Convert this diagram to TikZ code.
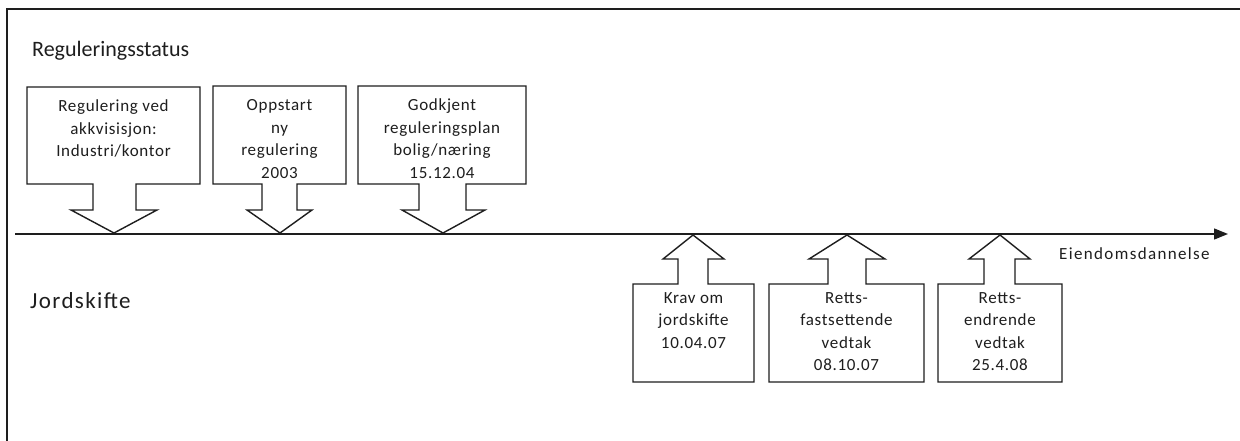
\documentclass[tikz,border=0pt]{standalone}
\usepackage{fontspec}
\setmainfont{Carlito}
\usetikzlibrary{arrows.meta}
\definecolor{ink}{HTML}{1E1E1E}
\begin{document}
\begin{tikzpicture}[x=1pt,y=-1pt,
  outline/.style={draw=ink,line width=1.4pt,line join=miter},
  frameline/.style={draw=ink,line width=2pt},
  boxtext/.style={anchor=base,align=center,inner sep=0pt,text=ink,
    font=\fontsize{17}{22.5}\selectfont\addfontfeatures{LetterSpace=4}},
  heading/.style={anchor=base west,inner sep=0pt,text=ink,
    font=\fontsize{22}{26}\selectfont},
  axislabel/.style={anchor=west,inner sep=0pt,text=ink,
    font=\fontsize{17}{20}\selectfont\addfontfeatures{LetterSpace=8}}]
\useasboundingbox (0,0) rectangle (1240,441);
\fill[white] (0,0) rectangle (1240,441);

% open frame: left and top edges only
\draw[frameline] (7,441) -- (7,9) -- (1240,9);

% section headings
\node[heading] (hreg) at (32,57) {Reguleringsstatus};
\node[heading,font=\fontsize{23}{26}\selectfont\addfontfeatures{LetterSpace=6}]
  (hjord) at (30,308) {Jordskifte};

% time axis
\coordinate (t0) at (15,234);
\coordinate (t1) at (1228,234);
\draw[draw=ink,line width=1.4pt,-{Triangle[length=14pt,width=11pt]}] (t0) -- (t1);
\node[axislabel] (eiend) at (1059,254) {Eiendomsdannelse};

% callouts above the axis, pointing down (text anchored on its last baseline)
\coordinate (p1) at (114,233);
\draw[outline] (27,87) -- (200,87) -- (200,184) -- (136,184) -- (136,210) -- (157,210)
  -- (p1) -- (71,210) -- (93,210) -- (93,184) -- (27,184) -- cycle;
\node[boxtext] (r1) at (113.5,157) {Regulering ved\\akkvisisjon:\\Industri/kontor};

\coordinate (p2) at (280,233);
\draw[outline] (213,86) -- (346,86) -- (346,184) -- (297,184) -- (297,210) -- (312,210)
  -- (p2) -- (247,210) -- (262,210) -- (262,184) -- (213,184) -- cycle;
\node[boxtext] (r2) at (279.5,178.5) {Oppstart\\ny\\regulering\\2003};

\coordinate (p3) at (443,233);
\draw[outline] (358,86) -- (526,86) -- (526,184) -- (466,184) -- (466,210) -- (485,210)
  -- (p3) -- (402,210) -- (419,210) -- (419,184) -- (358,184) -- cycle;
\node[boxtext] (r3) at (442,178.5) {Godkjent\\reguleringsplan\\bolig/næring\\15.12.04};

% callouts below the axis, pointing up
\coordinate (q1) at (693,235);
\draw[outline] (633,382) -- (754,382) -- (754,284) -- (708,284) -- (708,259) -- (724,259)
  -- (q1) -- (663,259) -- (678,259) -- (678,284) -- (633,284) -- cycle;
\node[boxtext] (j1) at (693.5,348) {Krav om\\jordskifte\\10.04.07};

\coordinate (q2) at (847,235);
\draw[outline] (769,382) -- (924,382) -- (924,284) -- (866,284) -- (866,259) -- (885,259)
  -- (q2) -- (809,259) -- (828,259) -- (828,284) -- (769,284) -- cycle;
\node[boxtext] (j2) at (846.5,370.5) {Retts-\\fastsettende\\vedtak\\08.10.07};

\coordinate (q3) at (1000,235);
\draw[outline] (938,382) -- (1062,382) -- (1062,284) -- (1015,284) -- (1015,259) -- (1030,259)
  -- (q3) -- (969,259) -- (984,259) -- (984,284) -- (938,284) -- cycle;
\node[boxtext] (j3) at (1000,370.5) {Retts-\\endrende\\vedtak\\25.4.08};
\end{tikzpicture}
\end{document}
